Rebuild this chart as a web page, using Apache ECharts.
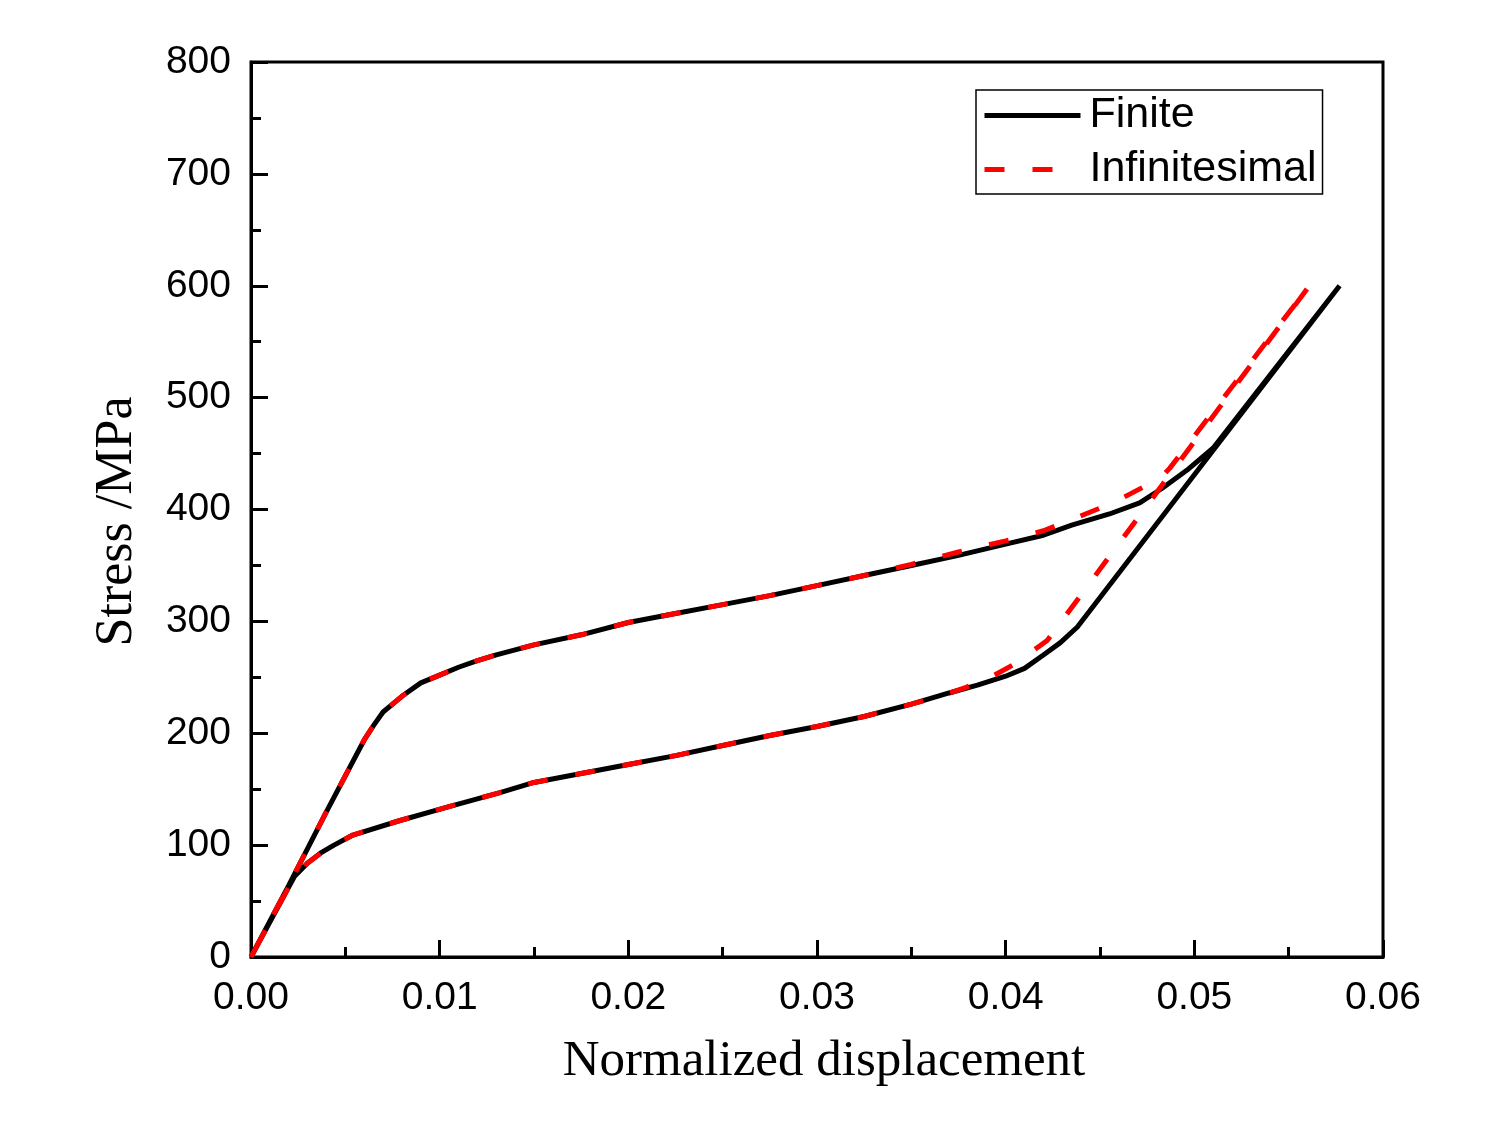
<!DOCTYPE html>
<html>
<head>
<meta charset="utf-8">
<script src="https://cdn.jsdelivr.net/npm/echarts@6/dist/echarts.min.js"></script>
<style>html,body{margin:0;padding:0;background:#fff}#c{width:1500px;height:1125px}</style>
</head>
<body>
<div id="c"></div>
<script>
// Finite model: loading branch then unloading branch (closed loop)
var finiteX = [0, 0.002, 0.004, 0.006, 0.0065, 0.007, 0.008, 0.009, 0.010, 0.011, 0.012, 0.013, 0.015, 0.0175, 0.020, 0.0225, 0.025, 0.0275, 0.030, 0.0325, 0.035, 0.0375, 0.040, 0.042, 0.0435, 0.0455, 0.0471, 0.0483, 0.0496, 0.051, 0.0577,
               0.0438, 0.0429, 0.0420, 0.0410, 0.0400, 0.0385, 0.0370, 0.035, 0.0325, 0.030, 0.0275, 0.025, 0.0225, 0.020, 0.0175, 0.015, 0.0132, 0.0104, 0.0079, 0.0054, 0.0044, 0.0037, 0.0030, 0.0023, 0];
var finiteY = [0, 64, 130, 194, 207, 219, 233, 245, 252, 259, 265, 270, 279, 288, 299, 307, 315, 323, 332, 341, 350, 359, 369, 377, 386, 396, 406, 419, 435, 455, 600,
               295, 281, 270, 258, 251, 243, 236, 226, 215, 206, 198, 189, 180, 172, 164, 156, 147, 134, 122, 109, 100, 93, 84, 72, 0];
// Infinitesimal model
var infX = [0, 0.002, 0.004, 0.006, 0.0065, 0.007, 0.008, 0.009, 0.010, 0.011, 0.012, 0.013, 0.015, 0.0175, 0.020, 0.0225, 0.025, 0.0275, 0.030, 0.0325, 0.035, 0.0375, 0.040, 0.042, 0.0435, 0.0457, 0.0482, 0.0487, 0.0561,
            0.0430, 0.0422, 0.0406, 0.0392, 0.0379, 0.0365, 0.035, 0.0325, 0.030, 0.0275, 0.025, 0.0225, 0.020, 0.0175, 0.015, 0.0132, 0.0104, 0.0079, 0.0054, 0.0044, 0.0037, 0.0030, 0.0023, 0];
var infY = [0, 64, 130, 194, 207, 219, 233, 245, 252, 259, 265, 270, 279, 288, 299, 307, 315, 323, 332, 341, 351, 362, 372, 381, 391, 406, 428, 437, 600,
            301, 283, 263, 250, 241, 233, 226, 215, 206, 198, 189, 180, 172, 164, 156, 147, 134, 122, 109, 100, 93, 84, 72, 0];
var seriesNames = ['Finite', 'Infinitesimal'];
var xTicks = [0, 0.01, 0.02, 0.03, 0.04, 0.05, 0.06];
var yTicks = [0, 100, 200, 300, 400, 500, 600, 700, 800];

function pairs(xs, ys) { return xs.map(function (x, i) { return [x, ys[i]]; }); }

var chart = echarts.init(document.getElementById('c'), null, { renderer: 'canvas' });
var axisCommon = {
  axisLine: { show: true, lineStyle: { color: '#000', width: 3 } },
  axisTick: { show: true, inside: true, length: 17, lineStyle: { color: '#000', width: 3 } },
  minorTick: { show: true, splitNumber: 2, length: 10, lineStyle: { color: '#000', width: 3 } },
  splitLine: { show: false },
  minorSplitLine: { show: false }
};
chart.setOption({
  animation: false,
  backgroundColor: '#fff',
  grid: { left: 251, top: 62, width: 1132, height: 895, show: true, borderColor: '#000', borderWidth: 3, backgroundColor: 'transparent' },
  legend: {
    left: 976, top: 90, orient: 'vertical',
    data: seriesNames,
    itemWidth: 96, itemHeight: 43, itemGap: 11,
    padding: [4, 6, 3, 6],
    borderColor: '#000', borderWidth: 1.5,
    itemStyle: { opacity: 0, borderWidth: 0 },
    lineStyle: { width: 5 },
    textStyle: { fontFamily: 'Liberation Sans, Arial, sans-serif', fontSize: 43, color: '#000', padding: [0, 0, 0, 4] }
  },
  xAxis: Object.assign({
    type: 'value', min: xTicks[0], max: xTicks[xTicks.length - 1], interval: 0.01,
    name: 'Normalized displacement', nameLocation: 'middle', nameGap: 79,
    nameTextStyle: { fontFamily: 'Liberation Serif, Times New Roman, serif', fontSize: 51, color: '#000', padding: [0, 0, 0, 14] },
    axisLabel: { margin: 22, fontFamily: 'Liberation Sans, Arial, sans-serif', fontSize: 39, color: '#000',
      formatter: function (v) { return v.toFixed(2); } }
  }, axisCommon),
  yAxis: Object.assign({
    type: 'value', min: yTicks[0], max: yTicks[yTicks.length - 1], interval: 100,
    name: 'Stress /MPa', nameLocation: 'middle', nameGap: 108, nameRotate: 90,
    nameTextStyle: { fontFamily: 'Liberation Serif, Times New Roman, serif', fontSize: 52, color: '#000', padding: [0, 24, 0, 0] },
    axisLabel: { margin: 20, fontFamily: 'Liberation Sans, Arial, sans-serif', fontSize: 39, color: '#000' }
  }, axisCommon),
  series: [
    { name: seriesNames[0], type: 'line', data: pairs(finiteX, finiteY), symbol: 'none', smooth: false,
      lineStyle: { color: '#000', width: 5, type: 'solid' }, itemStyle: { color: '#000' }, z: 2 },
    { name: seriesNames[1], type: 'line', data: pairs(infX, infY), symbol: 'none', smooth: false,
      lineStyle: { color: '#ff0000', width: 5, type: [20, 28] }, itemStyle: { color: '#ff0000' }, z: 3 }
  ]
});
</script>
</body>
</html>
